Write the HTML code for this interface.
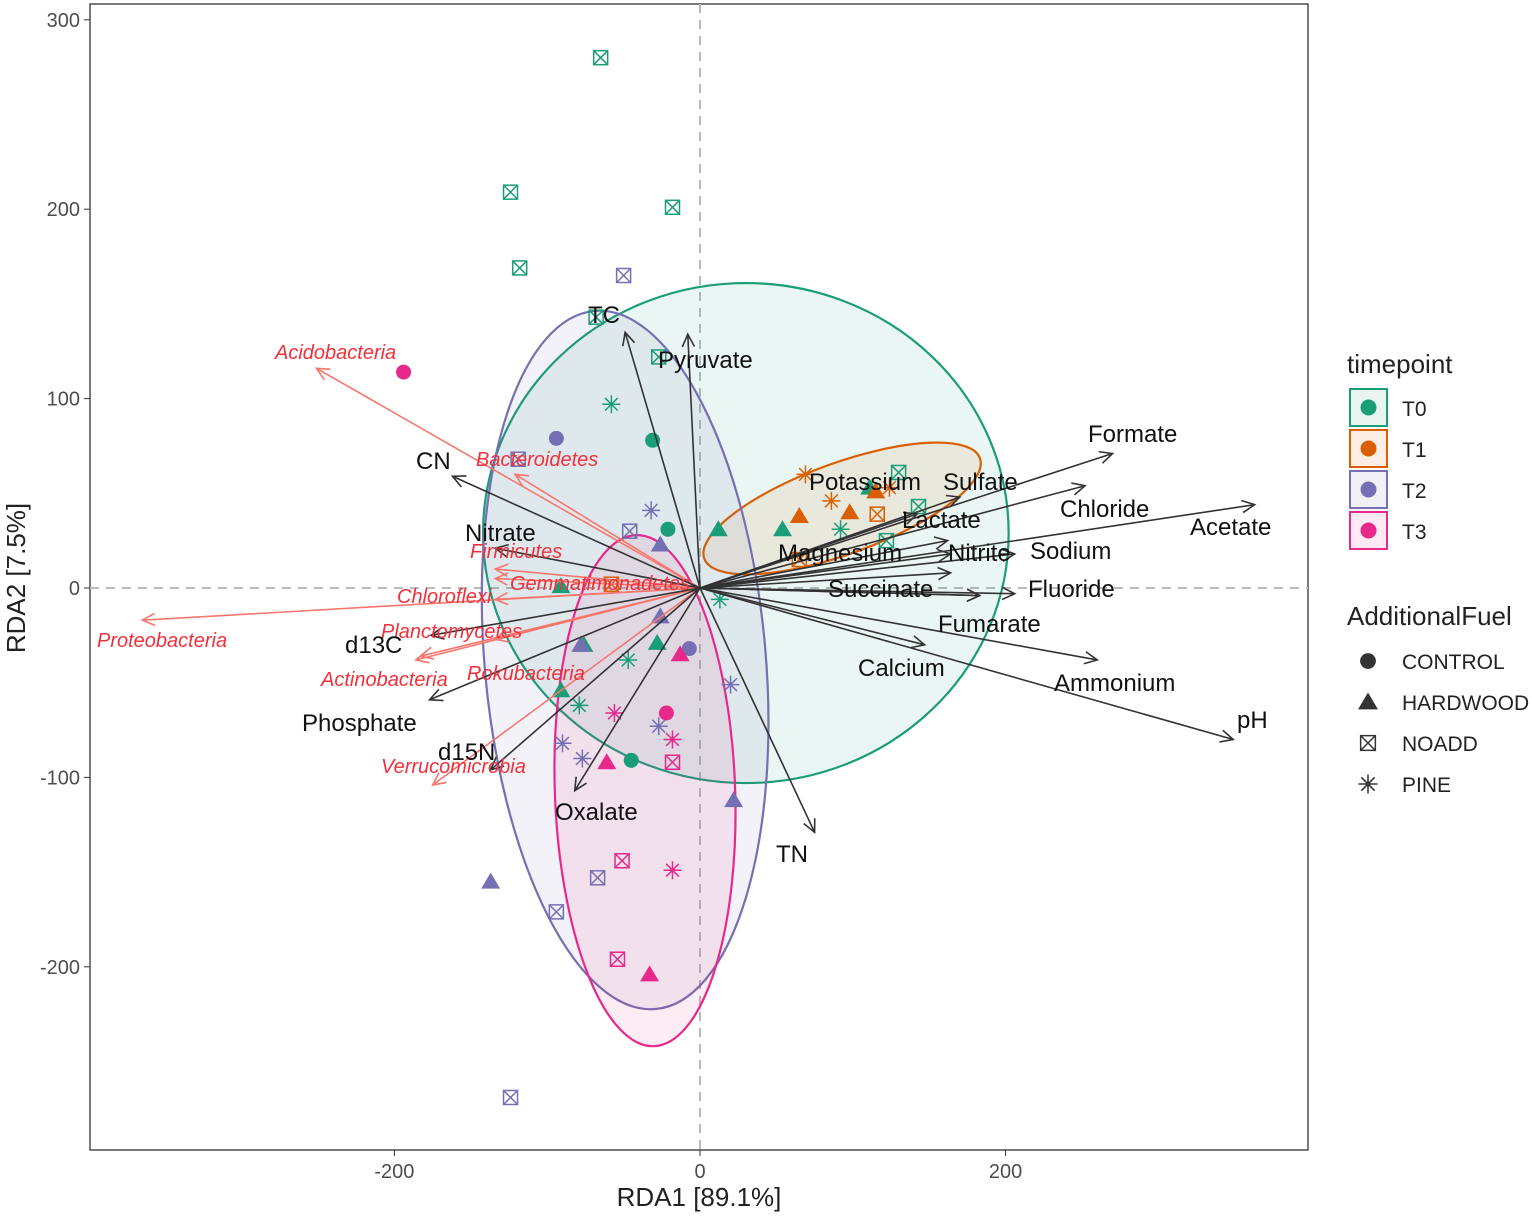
<!DOCTYPE html>
<html><head><meta charset="utf-8">
<style>
body{margin:0;background:#fff;font-family:"Liberation Sans",sans-serif;}
svg{display:block}
</style></head>
<body>
<svg id="chart" width="1532" height="1217" xmlns="http://www.w3.org/2000/svg">
<rect x="0" y="0" width="1532" height="1217" fill="#fff"/>
<g id="plot"></g>
</svg>
<script>
// ---- data ----
const timepoints=["T0","T1","T2","T3"];
const timeColors=["#1b9e77","#d95f02","#7570b3","#e7298a"];
const fuels=["CONTROL","HARDWOOD","NOADD","PINE"];
const xTicks=[-200,0,200];
const yTicks=[300,200,100,0,-100,-200];
// samples: [rda1, rda2, timepoint index, fuel index]
const samples=[
[-65,280,0,2],[-124,209,0,2],[-18,201,0,2],[-118,169,0,2],[-68,143,0,2],[-27,122,0,2],[130,61,0,2],[143,43,0,2],[122,25,0,2],
[-58,97,0,3],[13,-6,0,3],[92,31,0,3],[-79,-62,0,3],[-47,-38,0,3],
[-31,78,0,0],[-21,31,0,0],[-45,-91,0,0],
[12,31,0,1],[54,31,0,1],[-91,1,0,1],[-76,-30,0,1],[-28,-29,0,1],[-91,-54,0,1],[111,53,0,1],
[65,38,1,1],[98,40,1,1],[115,51,1,1],
[69,60,1,3],[86,46,1,3],[124,53,1,3],
[116,39,1,2],[65,15,1,2],[-58,2,1,2],
[-94,79,2,0],[-7,-32,2,0],
[-50,165,2,2],[-119,68,2,2],[-46,30,2,2],[-67,-153,2,2],[-94,-171,2,2],[-124,-269,2,2],
[-26,23,2,1],[-26,-15,2,1],[-137,-155,2,1],[22,-112,2,1],[-78,-30,2,1],
[-32,41,2,3],[20,-51,2,3],[-90,-82,2,3],[-77,-90,2,3],[-27,-73,2,3],
[-194,114,3,0],[-22,-66,3,0],
[-13,-35,3,1],[-61,-92,3,1],[-33,-204,3,1],
[-56,-66,3,3],[-18,-80,3,3],[-18,-149,3,3],
[-18,-92,3,2],[-51,-144,3,2],[-54,-196,3,2]
];
// ellipses: centre x, centre y, semi-axis x, semi-axis y (data units), rotation deg
const ellipseCenters=[[30,29],[93,42],[-49,-38],[-36,-107]];
const ellipseRadii=[[172,132],[96,24],[92,185],[59,135]];
const ellipseRot=[0,-20,-5,-2];
// environmental vectors
const envNames=["TC","Pyruvate","CN","Nitrate","d13C","Phosphate","d15N","Oxalate","TN","Formate","Chloride","Acetate","Sodium","Fluoride","Fumarate","Ammonium","pH","Calcium","Potassium","Sulfate","Lactate","Magnesium","Nitrite","Succinate"];
const envX=[-49,-8,-162,-134,-176,-177,-137,-82,75,270,252,363,206,206,183,260,349,147,142,170,162,164,164,183];
const envY=[135,134,59,21,-25,-59,-96,-107,-129,71,54,44,18,-3,-4,-38,-80,-30,39,48,25,8,18,-4];
const taxaNames=["Acidobacteria","Bacteroidetes","Firmicutes","Gemmatimonadetes","Chloroflexi","Proteobacteria","Planctomycetes","Actinobacteria","Rokubacteria","Verrucomicrobia"];
const taxaX=[-251,-121,-134,-134,-134,-365,-183,-186,-134,-175];
const taxaY=[116,60,10,5,-6,-17,-36,-38,-27,-104];
// label anchor layout (pixels, left/middle)
const envLabelPos=[[588,315],[658,360],[416,461],[465,533],[345,645],[302,723],[438,752],[555,812],[776,854],[1088,434],[1060,509],[1190,527],[1030,551],[1028,589],[938,624],[1054,683],[1237,720],[858,668],[809,482],[943,482],[902,520],[778,553],[948,553],[828,589]];
const taxaLabelPos=[[275,352],[476,459],[470,551],[510,583],[397,596],[97,640],[381,631],[321,679],[467,673],[381,766]];

// ---- scales ----
const X0=700, Y0=588, KX=1.528, KY=1.894;
const sx=v=>X0+v*KX, sy=v=>Y0-v*KY;
const NS="http://www.w3.org/2000/svg";
const g=document.getElementById('plot');
function mk(t,a,p){const e=document.createElementNS(NS,t);for(const k in a)e.setAttribute(k,a[k]);(p||g).appendChild(e);return e;}

// panel
let panel=mk('rect',{x:90,y:4,width:1218,height:1146,fill:'#fff',stroke:'#333','stroke-width':1.3});


let zl=mk('line',{x1:sx(0),x2:sx(0),y1:4,y2:1150,stroke:'#bbb','stroke-width':2,'stroke-dasharray':'9,7'});


zl=mk('line',{x1:90,x2:1308,y1:sy(0),y2:sy(0),stroke:'#bbb','stroke-width':2,'stroke-dasharray':'9,7'});



// ticks
xTicks.forEach(v=>{
  mk('line',{x1:sx(v),x2:sx(v),y1:1150,y2:1156,stroke:'#333'});
  const t=mk('text',{x:sx(v),y:1178,'text-anchor':'middle','font-size':20,fill:'#4d4d4d'});t.textContent=v;
  
  
});
yTicks.forEach(v=>{
  mk('line',{x1:84,x2:90,y1:sy(v),y2:sy(v),stroke:'#333'});
  const t=mk('text',{x:80,y:sy(v)+7,'text-anchor':'end','font-size':20,fill:'#4d4d4d'});t.textContent=v;
  
  
});
let at=mk('text',{x:699,y:1206,'text-anchor':'middle','font-size':26,fill:'#222'});at.textContent='RDA1 [89.1%]';


at=mk('text',{x:0,y:0,'text-anchor':'middle','font-size':26,fill:'#222',transform:'translate(25,578) rotate(-90)'});at.textContent='RDA2 [7.5%]';



// ellipses
ellipseCenters.forEach((c,i)=>{
  const cx=sx(c[0]),cy=sy(c[1]);
  const e=mk('ellipse',{cx:cx,cy:cy,rx:ellipseRadii[i][0]*KX,ry:ellipseRadii[i][1]*KY,fill:timeColors[i],'fill-opacity':0.09,stroke:timeColors[i],'stroke-width':2.2,transform:`rotate(${ellipseRot[i]} ${cx} ${cy})`});
  
  
});

// markers
function marker(px,py,col,f,parent,sz){
  sz=sz||1;const G=mk('g',{},parent);
  if(f===0) mk('circle',{cx:px,cy:py,r:7.5*sz,fill:col},G);
  else if(f===1) mk('polygon',{points:`${px},${py-9*sz} ${px+9.5*sz},${py+7*sz} ${px-9.5*sz},${py+7*sz}`,fill:col},G);
  else if(f===2){const r=7*sz;mk('rect',{x:px-r,y:py-r,width:2*r,height:2*r,fill:'none',stroke:col,'stroke-width':1.5},G);
    mk('path',{d:`M${px-r} ${py-r}L${px+r} ${py+r}M${px+r} ${py-r}L${px-r} ${py+r}`,stroke:col,'stroke-width':1.5},G);}
  else {const r=9*sz;let d='';for(let k=0;k<4;k++){const a=k*Math.PI/4;d+=`M${px-r*Math.cos(a)} ${py-r*Math.sin(a)}L${px+r*Math.cos(a)} ${py+r*Math.sin(a)}`;}
    mk('path',{d:d,stroke:col,'stroke-width':1.5},G);}
  return G;
}
samples.forEach(s=>{
  const m=marker(sx(s[0]),sy(s[1]),timeColors[s[2]],s[3]);
  
  
});

// arrows
function arrow(x,y,col,w){
  const x1=sx(0),y1=sy(0),x2=sx(x),y2=sy(y);
  const a=Math.atan2(y2-y1,x2-x1),h=14,s=0.45;
  const G=mk('g',{});
  mk('line',{x1:x1,y1:y1,x2:x2,y2:y2,stroke:col,'stroke-width':w},G);
  mk('path',{d:`M${x2-h*Math.cos(a-s)} ${y2-h*Math.sin(a-s)}L${x2} ${y2}L${x2-h*Math.cos(a+s)} ${y2-h*Math.sin(a+s)}`,stroke:col,'stroke-width':w,fill:'none'},G);
  return G;
}
taxaNames.forEach((n,i)=>{
  const A=arrow(taxaX[i],taxaY[i],'#f8766d',1.6);
  
  
});
envNames.forEach((n,i)=>{
  const A=arrow(envX[i],envY[i],'#333',1.6);
  
  
});
taxaNames.forEach((n,i)=>{
  const t=mk('text',{x:taxaLabelPos[i][0],y:taxaLabelPos[i][1]+7,'font-size':20,'font-style':'italic',fill:'#f0303a'});t.textContent=n;
  
  
});
envNames.forEach((n,i)=>{
  const t=mk('text',{x:envLabelPos[i][0],y:envLabelPos[i][1]+8,'font-size':24,fill:'#111'});t.textContent=n;
  
  
});

// legend
let lt=mk('text',{x:1347,y:373,'font-size':26,fill:'#222'});lt.textContent='timepoint';


timepoints.forEach((t,i)=>{
  const y=389+i*41;const G=mk('g',{});
  
  
  mk('rect',{x:1350,y:y,width:37,height:37,fill:timeColors[i],'fill-opacity':0.1,stroke:timeColors[i],'stroke-width':2},G);
  mk('circle',{cx:1368.5,cy:y+18.5,r:8,fill:timeColors[i]},G);
  const tx=mk('text',{x:1402,y:y+27,'font-size':21,fill:'#222'},G);tx.textContent=t;
});
lt=mk('text',{x:1347,y:625,'font-size':26,fill:'#222'});lt.textContent='AdditionalFuel';


fuels.forEach((f,i)=>{
  const y=661+i*41;
  const G=marker(1368,y,'#333',i,null,1.05);
  
  
  const tx=mk('text',{x:1402,y:y+8,'font-size':21,fill:'#222'},G);tx.textContent=f;
});
</script>
</body></html>
